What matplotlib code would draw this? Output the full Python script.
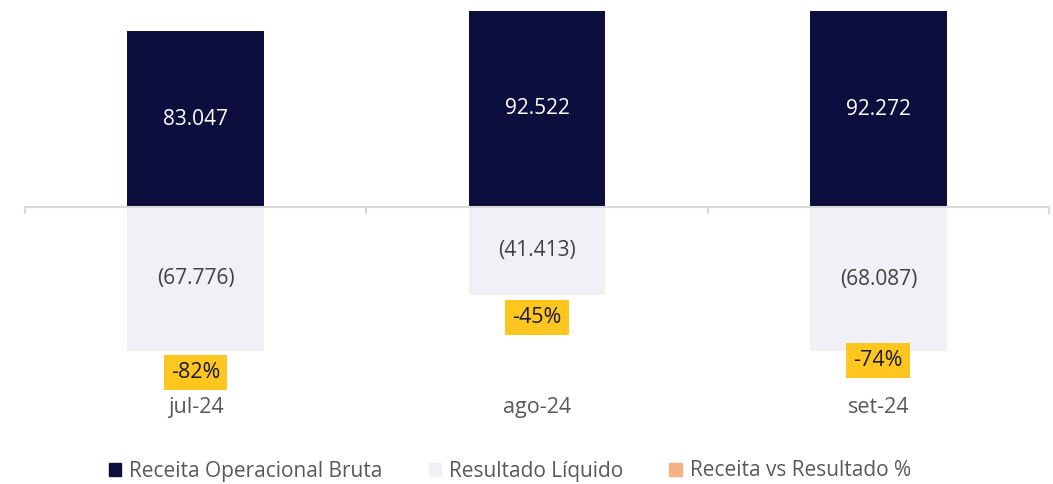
import matplotlib.pyplot as plt
import matplotlib.transforms as mtransforms
from matplotlib.patches import Patch, Rectangle

# Data
months = ["jul-24", "ago-24", "set-24"]
receita = [83047, 92522, 92272]
resultado = [-67776, -41413, -68087]
receita_vs_resultado = [-82, -45, -74]

NAVY = "#0C0F3E"
LAVENDER = "#F2F0F7"
ORANGE = "#F4B183"
YELLOW = "#FFC620"
GRAY = "#595959"

plt.rcParams["font.family"] = ["Open Sans", "DejaVu Sans"]


def fmt_num(v):
    s = f"{abs(v):,}".replace(",", ".")
    return f"({s})" if v < 0 else s


fig = plt.figure(figsize=(10.53, 4.84), dpi=100)
ax = fig.add_axes([25 / 1053, 89 / 484, 1024 / 1053, 390 / 484])

x = list(range(len(months)))
bars_pos = ax.bar(x, receita, width=0.4, color=NAVY, zorder=2)
bars_neg = ax.bar(x, resultado, width=0.4, color=LAVENDER, zorder=2)

ax.set_xlim(-0.5, 2.5)
ax.set_ylim(-88720, 95330)

for b, v in zip(bars_pos, receita):
    ax.text(b.get_x() + b.get_width() / 2, v / 2, fmt_num(v),
            ha="center", va="center", color="white", fontsize=15)
for b, v in zip(bars_neg, resultado):
    ax.text(b.get_x() + b.get_width() / 2, v / 2, fmt_num(v),
            ha="center", va="center", color="#404040", fontsize=15)

# Axis line at zero with separators between categories
for s in ["top", "right", "left"]:
    ax.spines[s].set_visible(False)
ax.spines["bottom"].set_position(("data", 0))
ax.spines["bottom"].set_color("#D9D9D9")
ax.spines["bottom"].set_linewidth(1.5)
ax.set_xticks([-0.5, 0.5, 1.5, 2.5])
ax.set_xticklabels([])
ax.tick_params(axis="x", direction="out", length=5, width=1.5, color="#D9D9D9")
ax.set_yticks([])

trans = mtransforms.blended_transform_factory(ax.transData, ax.transAxes)
for xi, m in zip(x, months):
    ax.text(xi, -0.033, m, transform=trans, ha="center", va="center",
            color=GRAY, fontsize=15.5)

# Percent series on secondary axis (labels only), clipped at plot area bottom
ax2 = ax.twinx()
ax2.set_ylim(-97.3, 166.9)
ax2.axis("off")
ax2.plot(x, receita_vs_resultado, alpha=0)
clip = Rectangle((0, (484 - 383) / 484), 1, 1, transform=fig.transFigure)
for xi, v in zip(x, receita_vs_resultado):
    t = ax2.text(xi, v, f"{v}%", ha="center", va="center", color="#1A1A3A",
                 fontsize=15.5, zorder=5,
                 bbox=dict(boxstyle="square,pad=0.33", fc=YELLOW, ec="none"))
    t.set_clip_path(clip)

handles = [Patch(color=NAVY), Patch(color=LAVENDER), Patch(color=ORANGE)]
labels = ["Receita Operacional Bruta", "Resultado Líquido", "Receita vs Resultado %"]
fig.legend(handles, labels, loc="center", bbox_to_anchor=(510 / 1053, 13 / 484),
           ncol=3, frameon=False, fontsize=15, handlelength=0.6, handleheight=0.6,
           handletextpad=0.4, columnspacing=2.2, labelcolor=GRAY)

fig.savefig("out.png", dpi=100)
